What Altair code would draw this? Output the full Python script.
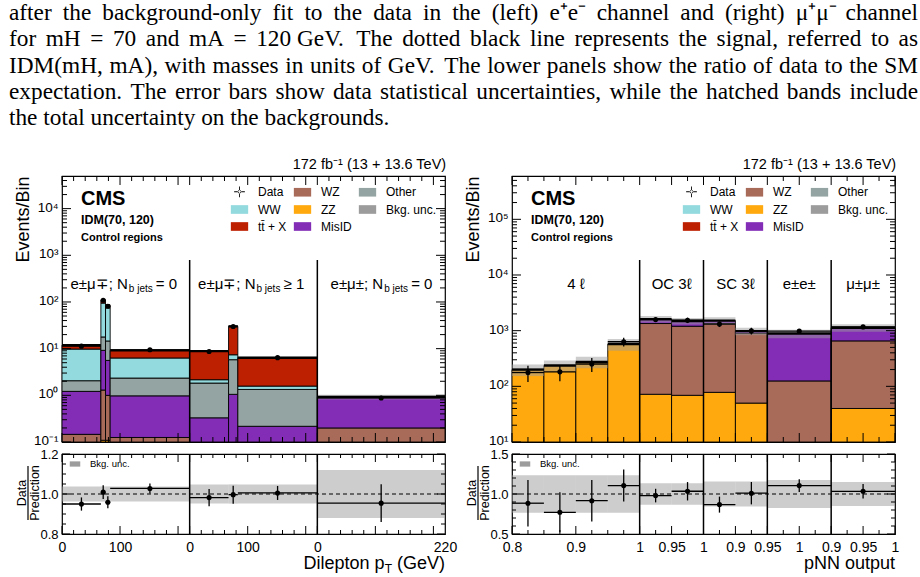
import altair as alt
import pandas as pd

SANS = "Liberation Sans"
SERIF = "Liberation Serif"
HATCH = "#9c9c9c"

W = 383          # plot width of each column
H_MAIN = 266     # main (stack) panel height
H_RATIO = 80     # ratio panel height

caption_lines = [
    "after the background-only fit to the data in the (left) e\u207ae\u207b channel and (right) \u03bc\u207a\u03bc\u207b channel",
    "for mH = 70 and mA = 120\u00a0GeV. The dotted black line represents the signal, referred to as",
    "IDM(mH, mA), with masses in units of GeV. The lower panels show the ratio of data to the SM",
    "expectation. The error bars show data statistical uncertainties, while the hatched bands include",
    "the total uncertainty on the backgrounds.",
]
lumi_text = "172 fb\u207b\u00b9 (13 + 13.6 TeV)"

# stacking order, bottom to top
processes = ["ZZ", "WZ", "MisID", "Other", "WW", "tt\u0304 + X"]
process_colors = ["#ffa90e", "#a96b59", "#832db6", "#94a4a2", "#92dadd", "#bd1f01"]

# legend entries, filled column by column (three rows)
legend_entries = ["Data", "WW", "tt\u0304 + X", "WZ", "ZZ", "MisID", "Other", "Bkg. unc."]
legend_colors = ["black", "#92dadd", "#bd1f01", "#a96b59", "#ffa90e", "#832db6", "#94a4a2", HATCH]
SWATCH = "M-1,-0.5H1V0.5H-1Z"
CROSS = ("M-0.05,-0.62H0.05V-0.05H0.62V0.05H0.05V0.62H-0.05V0.05H-0.62V-0.05H-0.05Z "
         "M-0.2,0A0.2,0.2 0 1,0 0.2,0A0.2,0.2 0 1,0 -0.2,0Z")
legend_shapes = [CROSS] + [SWATCH] * 7

# ---------------- dilepton pT control regions (e+e- channel) ----------------
pt_region = [0, 0, 0, 0, 1, 1, 1, 2]
pt_lo = [0, 67, 75, 83, 0, 67, 83, 0]
pt_hi = [67, 75, 83, 220, 67, 83, 220, 220]
pt_zz = [0.0, 0.109, 0.109, 0.0, 0.0, 0.0, 0.0, 0.0]
pt_wz = [0.146, 1.19, 0.89, 0.125, 0.0, 0.0, 0.0, 0.20]
pt_misid = [1.07, 7.9, 4.6, 0.85, 0.33, 1.05, 0.217, 0.72]
pt_other = [0.84, 8.6, 9.0, 1.37, 1.5, 4.75, 1.12, 0.0]
pt_ww = [7.74, 76.8, 60.4, 3.96, 0.33, 1.6, 0.24, 0.0]
pt_ttx = [2.1, 13.4, 9.5, 2.9, 6.7, 22.6, 4.8, 0.0]
pt_data = [11.3, 109, 81, 9.46, 8.7, 29.9, 6.41, 0.878]
pt_ratio_err = [0.033, 0.034, 0.030, 0.025, 0.043, 0.045, 0.035, 0.094]
pt_bkg_unc = [0.038, 0.038, 0.038, 0.038, 0.048, 0.048, 0.048, 0.12]
pt_region_width = 220
pt_tick_values = [0, 100, 220, 320, 440, 660]
pt_tick_labels = ["0", "100", "0", "100", "0", "220"]
pt_region_a = ["e\u00b1\u03bc\u2213; N", "e\u00b1\u03bc\u2213; N", "e\u00b1\u03bc\u00b1; N"]
pt_region_c = ["= 0", "\u2265 1", "= 0"]

# ---------------- pNN output control regions (mu+mu- channel) ----------------
nn_lo = [0.00, 0.05, 0.10, 0.15, 0.20, 0.25, 0.30, 0.35, 0.40, 0.50]
nn_hi = [0.05, 0.10, 0.15, 0.20, 0.25, 0.30, 0.35, 0.40, 0.50, 0.60]
nn_zz = [200, 236, 275, 572, 72, 69, 78, 50, 0, 40]
nn_wz = [0, 0, 0, 0, 1271, 1131, 1265, 840, 125, 615]
nn_misid = [0, 0, 0, 0, 270, 290, 171, 90, 762, 475]
nn_other = [0, 0, 0, 0, 0, 0, 0, 0, 0, 0]
nn_ww = [0, 0, 0, 0, 0, 0, 0, 0, 0, 0]
nn_ttx = [0, 0, 0, 0, 0, 0, 0, 0, 0, 0]
nn_data = [177, 182, 252, 632, 1581, 1541, 1313, 990, 980, 1168]
nn_ratio_err = [0.29, 0.25, 0.26, 0.20, 0.085, 0.115, 0.10, 0.14, 0.08, 0.09]
nn_bkg_unc = [0.235, 0.235, 0.235, 0.235, 0.135, 0.135, 0.155, 0.155, 0.175, 0.15]
nn_boundaries = [0.2, 0.3, 0.4, 0.5]
nn_tick_values = [0, 0.1, 0.2, 0.25, 0.3, 0.35, 0.4, 0.45, 0.5, 0.55, 0.6]
nn_tick_labels = ["0.8", "0.9", "1", "0.95", "1", "0.9", "0.95", "1", "0.9", "0.95", "1"]
nn_region_centers = [0.1, 0.25, 0.35, 0.45, 0.55]
nn_region_names = ["4 \u2113", "OC 3\u2113", "SC 3\u2113", "e\u00b1e\u00b1", "\u03bc\u00b1\u03bc\u00b1"]

SUP = {"-": "\u207b", "0": "\u2070", "1": "\u00b9", "2": "\u00b2", "3": "\u00b3",
       "4": "\u2074", "5": "\u2075"}

# an axis that draws nothing; shared by every layer of a panel that needs no guide
BLANK = alt.Axis(labels=False, ticks=False, domain=False, grid=False, title=None)

# ---------------- justified caption block ----------------
CAP_SIZE = 23.3
CAP_LEFT = -53      # relative to the plot origin of the left column
CAP_RIGHT = 856
CAP_BASE = 18
CAP_LEAD = 26.3
CAP_HEIGHT = 162    # caption cell height (row spacing is added below it)

# approximate advance widths of the serif face (1/1000 em)
SERIF_WIDTHS = {}
for chars, width in [(" ,.\u00a0", 250), ("ijlt", 278), ("fr()I-\u207a\u207b", 333), ("sJ", 389),
                     ("acez", 444), ("bdghknopquvxy0123456789\u03bc", 500), ("FPS", 556),
                     ("=+", 564), ("ELTZ", 611), ("BCR", 667), ("wADGHKNOQUVXY", 722),
                     ("m", 778), ("M", 889), ("W", 944)]:
    for ch in chars:
        SERIF_WIDTHS[ch] = width


def serif_width(word):
    return sum(SERIF_WIDTHS.get(ch, 500) for ch in word) * CAP_SIZE / 1000


def caption_frame():
    rows = []
    for i, line in enumerate(caption_lines):
        y = CAP_BASE + i * CAP_LEAD
        if i == len(caption_lines) - 1:
            rows.append({"w": line, "px": CAP_LEFT, "py": y, "side": "left"})
            continue
        words = line.split(" ")
        widths = [serif_width(w) for w in words]
        gap = (CAP_RIGHT - CAP_LEFT - sum(widths)) / (len(words) - 1)
        x = CAP_LEFT
        for j, (w, wd) in enumerate(zip(words, widths)):
            if j == len(words) - 1:
                rows.append({"w": w, "px": CAP_RIGHT, "py": y, "side": "right"})
            else:
                rows.append({"w": w, "px": x, "py": y, "side": "left"})
            x += wd + gap
    return pd.DataFrame(rows)


def power_label(k):
    return "10" + "".join(SUP[c] for c in str(k))


def log_label_expr(exponents):
    parts = [f"abs(log(datum.value)/LN10 - ({k})) < 0.01 ? '{power_label(k)}'" for k in exponents]
    return " : ".join(parts) + " : ''"


def value_label_expr(values, labels):
    parts = [f"abs(datum.value - ({v})) < 1e-6 ? '{t}'" for v, t in zip(values, labels)]
    return " : ".join(parts) + " : ''"


def bin_frame(x_lo, x_hi, comps, data, ratio_err, unc):
    n = len(x_lo)
    total = [sum(c[i] for c in comps) for i in range(n)]
    df = pd.DataFrame({"x_lo": x_lo, "x_hi": x_hi, "total": total, "data": data,
                       "rerr": ratio_err, "unc": unc})
    df["x_mid"] = (df.x_lo + df.x_hi) / 2
    df["ratio"] = df.data / df.total
    df["d_lo"] = df.data - df.rerr * df.total
    df["d_hi"] = df.data + df.rerr * df.total
    df["r_lo"] = df.ratio - df.rerr
    df["r_hi"] = df.ratio + df.rerr
    df["b_lo"] = df.total * (1 - df.unc)
    df["b_hi"] = df.total * (1 + df.unc)
    df["rb_lo"] = 1 - df.unc
    df["rb_hi"] = 1 + df.unc
    return df


def stack_frame(x_lo, x_hi, comps, floor):
    rows = []
    for i in range(len(x_lo)):
        base = 0.0
        for name, vals in zip(processes, comps):
            top = base + vals[i]
            if top > floor and vals[i] > 0:
                rows.append({"process": name, "x_lo": x_lo[i], "x_hi": x_hi[i],
                             "y0": max(base, floor), "y1": top})
            base = top
    return pd.DataFrame(rows)


class Panel:
    """Holds the shared scales and axes of one plotting area."""

    def __init__(self, xs, ys, xa, ya):
        self.xs, self.ys, self.xa, self.ya = xs, ys, xa, ya

    def x(self, field):
        return alt.X(field, scale=self.xs, axis=self.xa)

    def y(self, field):
        return alt.Y(field, scale=self.ys, axis=self.ya)


def tick_rules_y(p, values, length):
    df = pd.DataFrame({"v": values})
    base = alt.Chart(df).mark_rule(color="black", strokeWidth=1)
    left = base.encode(y=p.y("v:Q"), x=alt.value(0), x2=alt.value(length))
    right = base.encode(y=p.y("v:Q"), x=alt.value(W - length), x2=alt.value(W))
    return [left, right]


def tick_rules_x(p, values, length, height):
    df = pd.DataFrame({"v": values})
    base = alt.Chart(df).mark_rule(color="black", strokeWidth=1)
    bottom = base.encode(x=p.x("v:Q"), y=alt.value(height - length), y2=alt.value(height))
    top = base.encode(x=p.x("v:Q"), y=alt.value(0), y2=alt.value(length))
    return [bottom, top]


def text_layer(text, x, y, size, weight="normal", align="left"):
    df = pd.DataFrame({"t": [text]})
    return alt.Chart(df).mark_text(font=SANS, fontSize=size, fontWeight=weight, align=align,
                                   baseline="middle", color="black").encode(
        x=alt.value(x), y=alt.value(y), text="t:N")


def data_layers(p, bins, lo, hi, mid):
    rule = alt.Chart(bins).mark_rule(color="black", strokeWidth=1.3)
    vbar = rule.encode(x=p.x("x_mid:Q"), y=p.y(f"{lo}:Q"), y2=f"{hi}:Q")
    hbar = rule.encode(x=p.x("x_lo:Q"), x2="x_hi:Q", y=p.y(f"{mid}:Q"))
    dot = alt.Chart(bins).mark_circle(color="black", size=26, opacity=1).encode(
        x=p.x("x_mid:Q"), y=p.y(f"{mid}:Q"))
    return [vbar, hbar, dot]


def legend_layer(entries, colors, shapes, lx, ly, cols, size, font_size, col_pad):
    leg = alt.Legend(orient="none", legendX=lx, legendY=ly, columns=cols, title=None,
                     labelFont=SANS, labelFontSize=font_size, labelColor="black", labelOffset=9,
                     symbolSize=size, symbolStrokeColor="black", symbolStrokeWidth=0.8,
                     symbolOpacity=1, columnPadding=col_pad, rowPadding=1, padding=0)
    df = pd.DataFrame({"entry": entries})
    return alt.Chart(df).mark_point(filled=True).encode(
        x=alt.value(0), y=alt.value(0),
        color=alt.Color("entry:N", scale=alt.Scale(domain=entries, range=colors), legend=leg),
        shape=alt.Shape("entry:N", scale=alt.Scale(domain=entries, range=shapes), legend=leg),
    ).transform_filter("false")


def main_panel(stack_df, bins, xs, ys, exps, minor_y, x_major, x_minor, bounds, extra):
    y_axis = alt.Axis(values=[10.0 ** k for k in exps], labelExpr=log_label_expr(exps),
                      ticks=False, domain=False, grid=False, labelFont=SANS, labelFontSize=13.5,
                      labelColor="black", labelPadding=4, labelOffset=-1.5, title="Events/Bin",
                      titleFont=SANS, titleFontSize=18, titleFontWeight="normal", titleColor="black",
                      titleAngle=270, titleAlign="right", titleBaseline="middle",
                      titleX=-39, titleY=0)
    p = Panel(xs, ys, BLANK, y_axis)
    stack = alt.Chart(stack_df).mark_rect(stroke="black", strokeWidth=0.9).encode(
        x=p.x("x_lo:Q"), x2="x_hi:Q", y=p.y("y0:Q"), y2="y1:Q",
        fill=alt.Fill("process:N", scale=alt.Scale(domain=processes, range=process_colors), legend=None),
    )
    band = alt.Chart(bins).mark_rect(fill=HATCH, opacity=0.5).encode(
        x=p.x("x_lo:Q"), x2="x_hi:Q", y=p.y("b_lo:Q"), y2="b_hi:Q")
    total = alt.Chart(bins).mark_rule(color="black", strokeWidth=2.4).encode(
        x=p.x("x_lo:Q"), x2="x_hi:Q", y=p.y("total:Q"))
    seps = alt.Chart(pd.DataFrame({"b": bounds})).mark_rule(color="black", strokeWidth=1.5).encode(
        x=p.x("b:Q"), y=alt.value(84), y2=alt.value(H_MAIN))
    layers = [stack, band, total] + data_layers(p, bins, "d_lo", "d_hi", "data") + [seps]
    layers += tick_rules_y(p, [10.0 ** k for k in exps], 9) + tick_rules_y(p, minor_y, 5)
    layers += tick_rules_x(p, x_major, 9, H_MAIN) + tick_rules_x(p, x_minor, 5, H_MAIN)
    layers += [text_layer("CMS", 19, 23, 20, "bold"),
               text_layer("IDM(70, 120)", 19, 44, 12.5, "bold"),
               text_layer("Control regions", 19, 62, 11, "bold")]
    layers += [layer(p) for layer in extra]
    return alt.layer(*layers).properties(
        width=W, height=H_MAIN,
        title=alt.TitleParams(lumi_text, anchor="end", font=SANS, fontSize=14.5,
                              fontWeight="normal", color="black", offset=3),
    )


def ratio_panel(bins, xs, rs, r_labels, r_minor, x_vals, x_labels, x_major, x_minor, bounds, extra):
    x_axis = alt.Axis(values=x_vals, labelExpr=value_label_expr(x_vals, x_labels), ticks=False,
                      domain=False, grid=False, labelFont=SANS, labelFontSize=14, labelColor="black",
                      labelPadding=6, labelOverlap=False, labelFlush=False, title=None)
    y_axis = alt.Axis(values=r_labels, format=".1f", ticks=False, domain=False, grid=False,
                      labelFont=SANS, labelFontSize=13, labelColor="black", labelPadding=4,
                      title=None)
    p = Panel(xs, rs, x_axis, y_axis)
    band = alt.Chart(bins).mark_rect(fill=HATCH, opacity=0.5).encode(
        x=p.x("x_lo:Q"), x2="x_hi:Q", y=p.y("rb_lo:Q"), y2="rb_hi:Q")
    unity = alt.Chart(pd.DataFrame({"one": [1.0]})).mark_rule(
        color="black", strokeWidth=1, strokeDash=[4, 3]).encode(y=p.y("one:Q"))
    seps = alt.Chart(pd.DataFrame({"b": bounds})).mark_rule(color="black", strokeWidth=1.5).encode(
        x=p.x("b:Q"))
    layers = [band, unity] + data_layers(p, bins, "r_lo", "r_hi", "ratio") + [seps]
    layers += tick_rules_y(p, r_labels, 8) + tick_rules_y(p, r_minor, 4)
    layers += tick_rules_x(p, x_major, 8, H_RATIO) + tick_rules_x(p, x_minor, 4, H_RATIO)
    layers += [legend_layer(["Bkg. unc."], [HATCH], [SWATCH], 7, 4, 1, 110, 9.5, 0)]
    # fraction-style axis title
    frac = pd.DataFrame({"t": ["Data"], "u": ["Prediction"]})
    layers += [
        alt.Chart(frac).mark_text(font=SANS, fontSize=12.5, angle=270, color="black").encode(
            x=alt.value(-40), y=alt.value(H_RATIO / 2 - 1), text="t:N"),
        alt.Chart(frac).mark_text(font=SANS, fontSize=12.5, angle=270, color="black").encode(
            x=alt.value(-27.5), y=alt.value(H_RATIO / 2 - 1), text="u:N"),
        alt.Chart(frac).mark_rule(color="black", strokeWidth=1.2).encode(
            x=alt.value(-34), y=alt.value(H_RATIO / 2 - 28), y2=alt.value(H_RATIO / 2 + 26)),
    ]
    layers += extra
    return alt.layer(*layers).properties(width=W, height=H_RATIO)


# ---------------- left column: dilepton pT ----------------
pt_comps = [pt_zz, pt_wz, pt_misid, pt_other, pt_ww, pt_ttx]
pt_glo = [r * pt_region_width + v for r, v in zip(pt_region, pt_lo)]
pt_ghi = [r * pt_region_width + v for r, v in zip(pt_region, pt_hi)]
pt_bins = bin_frame(pt_glo, pt_ghi, pt_comps, pt_data, pt_ratio_err, pt_bkg_unc)
pt_stack = stack_frame(pt_glo, pt_ghi, pt_comps, 0.1)

xs_pt = alt.Scale(domain=[0, 3 * pt_region_width], nice=False, zero=False)
ys_pt = alt.Scale(type="log", domain=[0.1, 5e4], nice=False)
rs_pt = alt.Scale(domain=[0.8, 1.2], nice=False, zero=False)
pt_bounds = [pt_region_width, 2 * pt_region_width]
pt_major = [r * pt_region_width + v for r in range(3) for v in (0, 100, 200)]
pt_minor = [r * pt_region_width + v for r in range(3) for v in range(20, 220, 20) if v not in (100, 200)]
pt_minor_y = [m * 10.0 ** k for k in range(-1, 5) for m in range(2, 10) if m * 10.0 ** k < 5e4]

pt_label_df = pd.DataFrame({"c": [110, 330, 550], "a": pt_region_a, "b": ["b jets"] * 3, "d": pt_region_c})


def pt_region_labels(p):
    base = alt.Chart(pt_label_df)
    return alt.layer(
        base.mark_text(font=SANS, fontSize=15, align="right", baseline="middle", dx=2,
                       color="black").encode(x=p.x("c:Q"), y=alt.value(108), text="a:N"),
        base.mark_text(font=SANS, fontSize=10, align="left", baseline="middle", dx=3, dy=5,
                       color="black").encode(x=p.x("c:Q"), y=alt.value(108), text="b:N"),
        base.mark_text(font=SANS, fontSize=15, align="left", baseline="middle", dx=30,
                       color="black").encode(x=p.x("c:Q"), y=alt.value(108), text="d:N"),
    )


def pt_leg(p):
    return legend_layer(legend_entries, legend_colors, legend_shapes, 168, 6, 3, 300, 12, 5)


left_main = main_panel(pt_stack, pt_bins, xs_pt, ys_pt, list(range(-1, 5)), pt_minor_y,
                       pt_major, pt_minor, pt_bounds, [pt_region_labels, pt_leg])

pt_title = [
    text_layer("(GeV)", W, 110, 18, align="right"),
    alt.Chart(pd.DataFrame({"t": ["T"]})).mark_text(font=SANS, fontSize=12, align="right",
                                                   baseline="middle", color="black").encode(
        x=alt.value(W - 53), y=alt.value(115), text="t:N"),
    text_layer("Dilepton p", W - 60.5, 110, 18, align="right"),
]
left_ratio = ratio_panel(pt_bins, xs_pt, rs_pt, [0.8, 1.0, 1.2],
                         [0.85, 0.9, 0.95, 1.05, 1.1, 1.15],
                         pt_tick_values, pt_tick_labels, pt_major, pt_minor, pt_bounds, pt_title)

# ---------------- right column: pNN output ----------------
nn_comps = [nn_zz, nn_wz, nn_misid, nn_other, nn_ww, nn_ttx]
nn_bins = bin_frame(nn_lo, nn_hi, nn_comps, nn_data, nn_ratio_err, nn_bkg_unc)
nn_stack = stack_frame(nn_lo, nn_hi, nn_comps, 10)

xs_nn = alt.Scale(domain=[0, 0.6], nice=False, zero=False)
ys_nn = alt.Scale(type="log", domain=[10, 6e5], nice=False)
rs_nn = alt.Scale(domain=[0.5, 1.5], nice=False, zero=False)
nn_minor = [round(0.025 * i, 4) for i in range(1, 24) if round(0.025 * i, 4) not in nn_tick_values]
nn_minor_y = [m * 10.0 ** k for k in range(1, 6) for m in range(2, 10) if m * 10.0 ** k < 6e5]

nn_label_df = pd.DataFrame({"c": nn_region_centers, "t": nn_region_names})


def nn_region_labels(p):
    return alt.Chart(nn_label_df).mark_text(font=SANS, fontSize=15, align="center", baseline="middle",
                                            color="black").encode(
        x=p.x("c:Q"), y=alt.value(108), text="t:N")


def nn_leg(p):
    return legend_layer(legend_entries, legend_colors, legend_shapes, 170, 6, 3, 300, 12, 5)


right_main = main_panel(nn_stack, nn_bins, xs_nn, ys_nn, list(range(1, 6)), nn_minor_y,
                        nn_tick_values, nn_minor, nn_boundaries, [nn_region_labels, nn_leg])
nn_title = [text_layer("pNN output", W, 110, 18, align="right")]
right_ratio = ratio_panel(nn_bins, xs_nn, rs_nn, [0.5, 1.0, 1.5],
                          [0.6, 0.7, 0.8, 0.9, 1.1, 1.2, 1.3, 1.4],
                          nn_tick_values, nn_tick_labels, nn_tick_values, nn_minor,
                          nn_boundaries, nn_title)

# ---------------- caption above both columns ----------------
cap_df = caption_frame()
cap_base = alt.Chart(cap_df).encode(
    x=alt.X("px:Q", scale=None), y=alt.Y("py:Q", scale=None), text="w:N")
caption = alt.layer(
    cap_base.mark_text(font=SERIF, fontSize=CAP_SIZE, align="left", baseline="alphabetic",
                       color="black").transform_filter("datum.side == 'left'"),
    cap_base.mark_text(font=SERIF, fontSize=CAP_SIZE, align="right", baseline="alphabetic",
                       color="black").transform_filter("datum.side == 'right'"),
).properties(width=1, height=CAP_HEIGHT, view=alt.ViewBackground(stroke="transparent"))

# empty companion cell to the right of the caption
spacer = alt.Chart(pd.DataFrame({"t": [""]})).mark_text().encode(text="t:N").properties(
    width=1, height=1, view=alt.ViewBackground(stroke="transparent"))

chart = alt.concat(
    caption, spacer, left_main, right_main, left_ratio, right_ratio,
    columns=2, spacing={"row": 12, "column": 67}, bounds="flush", align="each",
).resolve_scale(
    color="independent", shape="independent", fill="independent",
).resolve_legend(
    color="independent", shape="independent", fill="independent",
).properties(
    padding={"left": 8, "top": -4, "right": 0, "bottom": 4},
).configure_view(stroke="black", strokeWidth=1.2)

chart.save("out.html", embed_options={"renderer": "svg", "actions": False})
